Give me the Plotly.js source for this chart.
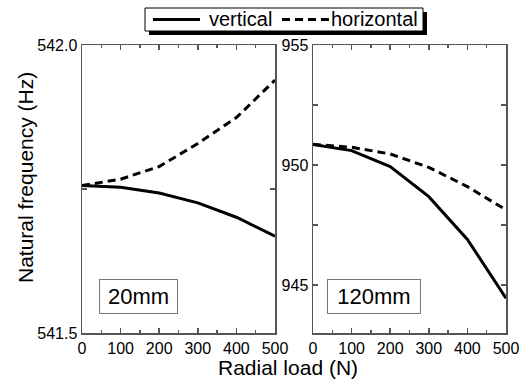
<!DOCTYPE html>
<html>
<head>
<meta charset="utf-8">
<script src="https://cdn.plot.ly/plotly-3.0.1.min.js"></script>
<style>html,body{margin:0;padding:0;background:#fff;}#chart{width:525px;height:387px;}</style>
</head>
<body>
<div id="chart"></div>
<script>
// Radial load (N)
const loads = [0, 100, 200, 300, 400, 500];
// 20mm case natural frequency (Hz)
const vertical20 = [541.756, 541.753, 541.743, 541.726, 541.701, 541.668];
const horizontal20 = [541.756, 541.767, 541.789, 541.829, 541.874, 541.939];
// 120mm case natural frequency (Hz)
const vertical120 = [950.86, 950.60, 949.93, 948.68, 946.90, 944.45];
const horizontal120 = [950.86, 950.74, 950.46, 949.90, 949.10, 948.13];

const seriesNames = ['vertical', 'horizontal'];
const xTickVals = [0, 100, 200, 300, 400, 500];
const xTickText = ['0', '100', '200', '300', '400', '500'];
const y1TickVals = [541.5, 541.75, 542.0];
const y1TickText = ['541.5', '', '542.0'];
const y2TickVals = [945, 950, 955];
const y2TickText = ['945', '950', '955'];

const FONT = 'Arial, "Liberation Sans", sans-serif';
const AX = '#555';

const solid = {color: '#000', width: 3, dash: 'solid'};
const dashed = {color: '#000', width: 3, dash: '8px,5px'};

const traces = [
  {x: loads, y: vertical20, mode: 'lines', line: solid, name: seriesNames[0], xaxis: 'x', yaxis: 'y'},
  {x: loads, y: horizontal20, mode: 'lines', line: dashed, name: seriesNames[1], xaxis: 'x', yaxis: 'y'},
  {x: loads, y: vertical120, mode: 'lines', line: solid, name: seriesNames[0], xaxis: 'x2', yaxis: 'y2'},
  {x: loads, y: horizontal120, mode: 'lines', line: dashed, name: seriesNames[1], xaxis: 'x2', yaxis: 'y2'}
];

function xaxis(domain, anchor) {
  return {
    domain: domain, anchor: anchor, range: [0, 500],
    tickmode: 'array', tickvals: xTickVals, ticktext: xTickText,
    ticks: 'inside', ticklen: 5, tickwidth: 1.5, tickcolor: AX,
    minor: {dtick: 50, ticks: 'inside', ticklen: 3, tickwidth: 1.5, tickcolor: AX, showgrid: false},
    showline: true, linecolor: AX, linewidth: 1.5, mirror: 'ticks',
    showgrid: false, zeroline: false,
    tickfont: {family: FONT, size: 16, color: '#000'}
  };
}
function yaxis(domain, anchor, range, vals, text, minor) {
  const a = {
    domain: domain, anchor: anchor, range: range,
    tickmode: 'array', tickvals: vals, ticktext: text,
    ticks: 'inside', ticklen: 5, tickwidth: 1.5, tickcolor: AX,
    showline: true, linecolor: AX, linewidth: 1.5, mirror: 'ticks',
    showgrid: false, zeroline: false,
    tickfont: {family: FONT, size: 16, color: '#000'}
  };
  if (minor) a.minor = {dtick: minor, ticks: 'inside', ticklen: 5, tickwidth: 1.5, tickcolor: AX, showgrid: false};
  return a;
}

const W = 525, H = 387;
const px = v => v / W;
const py = v => 1 - v / H;
const yDom = [py(333), py(45)];

// legend box drawn as a framed key at the top
const legendShapes = [
  {type: 'rect', xref: 'paper', yref: 'paper', x0: px(149), x1: px(427), y0: py(35), y1: py(12),
   fillcolor: '#000', line: {width: 0}, layer: 'above'},
  {type: 'rect', xref: 'paper', yref: 'paper', x0: px(145), x1: px(423), y0: py(31), y1: py(8),
   fillcolor: '#fff', line: {color: '#000', width: 1}, layer: 'above'},
  {type: 'line', xref: 'paper', yref: 'paper', x0: px(153), x1: px(200), y0: py(19.5), y1: py(19.5),
   line: solid, layer: 'above'},
  {type: 'line', xref: 'paper', yref: 'paper', x0: px(282), x1: px(329), y0: py(19.5), y1: py(19.5),
   line: dashed, layer: 'above'}
];

const layout = {
  width: W, height: H,
  margin: {l: 0, r: 0, t: 0, b: 0},
  paper_bgcolor: '#fff', plot_bgcolor: '#fff',
  font: {family: FONT, color: '#000'},
  xaxis: xaxis([px(82), px(275)], 'y'),
  yaxis: yaxis(yDom, 'x', [541.5, 542.0], y1TickVals, y1TickText, null),
  xaxis2: xaxis([px(313), px(506)], 'y2'),
  yaxis2: yaxis(yDom, 'x2', [943, 955], y2TickVals, y2TickText, 2.5),
  showlegend: false,
  shapes: legendShapes,
  annotations: [
    {xref: 'paper', yref: 'paper', x: px(207), y: py(19.5), xanchor: 'left', yanchor: 'middle',
     text: seriesNames[0], showarrow: false, font: {family: FONT, size: 20, color: '#000'}},
    {xref: 'paper', yref: 'paper', x: px(329), y: py(19.5), xanchor: 'left', yanchor: 'middle',
     text: seriesNames[1], showarrow: false, font: {family: FONT, size: 20, color: '#000'}},
    {xref: 'paper', yref: 'paper', x: px(288), y: py(367), xanchor: 'center', yanchor: 'middle',
     text: 'Radial load (N)', showarrow: false, font: {family: FONT, size: 21, color: '#000'}},
    {xref: 'paper', yref: 'paper', x: px(25), y: py(178), xanchor: 'center', yanchor: 'middle',
     text: 'Natural frequency (Hz)', textangle: -90, showarrow: false, font: {family: FONT, size: 21, color: '#000'}},
    {xref: 'paper', yref: 'paper', x: px(138.5), y: py(296.5), xanchor: 'center', yanchor: 'middle',
     text: '20mm', showarrow: false, font: {family: FONT, size: 22, color: '#000'},
     bordercolor: '#777', borderwidth: 1, borderpad: 0, width: 77, height: 33, bgcolor: '#fff'},
    {xref: 'paper', yref: 'paper', x: px(374), y: py(296.5), xanchor: 'center', yanchor: 'middle',
     text: '120mm', showarrow: false, font: {family: FONT, size: 22, color: '#000'},
     bordercolor: '#777', borderwidth: 1, borderpad: 0, width: 92, height: 33, bgcolor: '#fff'}
  ]
};

Plotly.newPlot('chart', traces, layout, {staticPlot: true, displayModeBar: false});
</script>
</body>
</html>
